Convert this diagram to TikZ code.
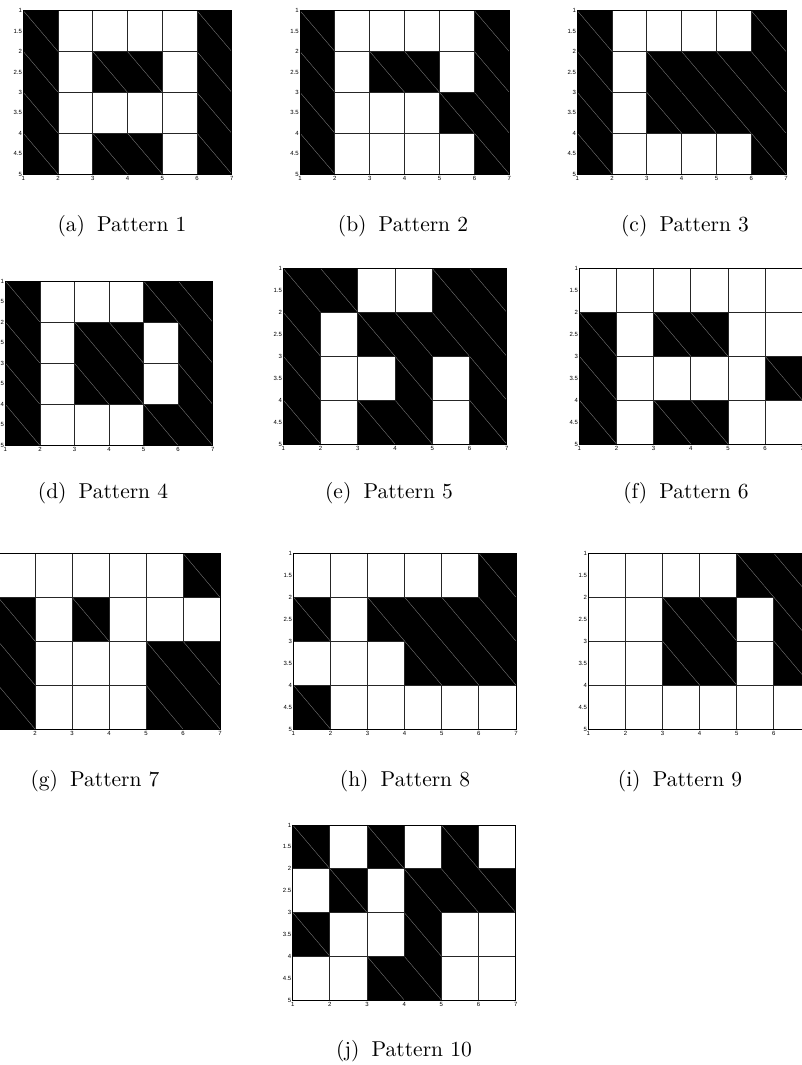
\documentclass[tikz,border=0pt]{standalone}
\usepackage{fontspec}
\newfontfamily\tickfont{Liberation Sans}
\newfontfamily\capfont{lmroman10-regular.otf}
\tikzset{
  blackcell/.style={fill=black},
  diag/.style={draw=black!50, line width=0.35pt},
  whitecell/.style={draw=black!85, line width=0.9pt},
  axisbox/.style={draw=black, line width=0.9pt},
  ylab/.style={anchor=east, inner sep=0pt, font=\tickfont\fontsize{6}{7}\selectfont},
  xlab/.style={anchor=north, inner sep=0pt, font=\tickfont\fontsize{6}{7}\selectfont},
  captext/.style={inner sep=0pt, font=\capfont\fontsize{21.5}{25}\selectfont}
}
% #1 name, #2 left, #3 top, #4 width, #5 height, #6 rows, #7 caption position, #8 label, #9 caption
\newcommand\patpanel[9]{%
  \pgfmathsetmacro\cw{#4/6}\pgfmathsetmacro\ch{#5/4}%
  \begin{scope}[shift={(#2,#3)}, x=\cw pt, y=-\ch pt]
    \foreach \row [count=\r] in {#6} {
      \foreach \v [count=\c] in \row {
        \ifnum\v=1
          \path[blackcell] (\c-1,\r-1) rectangle (\c,\r);
          \path[diag] (\c-1,\r-1) -- (\c,\r);
        \fi
      }
    }
    \foreach \row [count=\r] in {#6} {
      \foreach \v [count=\c] in \row {
        \ifnum\v=0
          \path[whitecell] (\c-1,\r-1) rectangle (\c,\r);
        \fi
      }
    }
    \path[axisbox] (0,0) rectangle (6,4);
    \foreach \yv [count=\i] in {1,1.5,2,2.5,3,3.5,4,4.5,5}
      \node[ylab] (#1-y\i) at ([xshift=-1.2pt]0,{(\i-1)/2}) {\yv};
    \foreach \i in {1,...,7}
      \node[xlab] (#1-x\i) at ([yshift=-2pt]\i-1,4) {\i};
  \end{scope}
  \node[captext] (#1-cap) at (#7) {(#8)\hspace{5pt} #9};
}
\begin{document}
\begin{tikzpicture}[x=1pt, y=-1pt]
  \path[use as bounding box] (0,0) rectangle (802,1065);
  \clip (0,0) rectangle (802,1065);
  \patpanel{a}{23.3}{10.7}{208.4}{163.3}
    {{1,0,0,0,0,1},{1,0,1,1,0,1},{1,0,0,0,0,1},{1,0,1,1,0,1}}{122,226.5}{a}{Pattern 1}
  \patpanel{b}{300}{10.7}{209.3}{163.3}
    {{1,0,0,0,0,1},{1,0,1,1,0,1},{1,0,0,0,1,1},{1,0,0,0,0,1}}{403,226.5}{b}{Pattern 2}
  \patpanel{c}{577.3}{10.7}{208.7}{163.3}
    {{1,0,0,0,0,1},{1,0,1,1,1,1},{1,0,1,1,1,1},{1,0,0,0,0,1}}{685,226.5}{c}{Pattern 3}
  \patpanel{d}{5.4}{281}{207.3}{164.5}
    {{1,0,0,0,1,1},{1,0,1,1,0,1},{1,0,1,1,0,1},{1,0,0,0,1,1}}{103,493}{d}{Pattern 4}
  \patpanel{e}{283.3}{268.4}{223.4}{175.6}
    {{1,1,0,0,1,1},{1,0,1,1,1,1},{1,0,0,1,0,1},{1,0,1,1,0,1}}{389,493}{e}{Pattern 5}
  \patpanel{f}{579.3}{268.4}{223}{175.6}
    {{0,0,0,0,0,0},{1,0,1,1,0,0},{1,0,0,0,0,1},{1,0,1,1,0,0}}{686,493}{f}{Pattern 6}
  \patpanel{g}{-2}{553.3}{222}{175.7}
    {{0,0,0,0,0,1},{1,0,1,0,0,0},{1,0,0,0,1,1},{1,0,0,0,1,1}}{95,781}{g}{Pattern 7}
  \patpanel{h}{293.3}{553.3}{222.7}{175.7}
    {{0,0,0,0,0,1},{1,0,1,1,1,1},{0,0,0,1,1,1},{1,0,0,0,0,0}}{405,781}{h}{Pattern 8}
  \patpanel{i}{588.3}{553.3}{222.7}{175.7}
    {{0,0,0,0,1,1},{0,0,1,1,0,1},{0,0,1,1,0,1},{0,0,0,0,0,0}}{680,781}{i}{Pattern 9}
  \patpanel{j}{292.7}{825}{223}{175}
    {{1,0,1,0,1,0},{0,1,0,1,1,1},{1,0,0,1,0,0},{0,0,1,1,0,0}}{404,1051.5}{j}{Pattern 10}
\end{tikzpicture}
\end{document}
